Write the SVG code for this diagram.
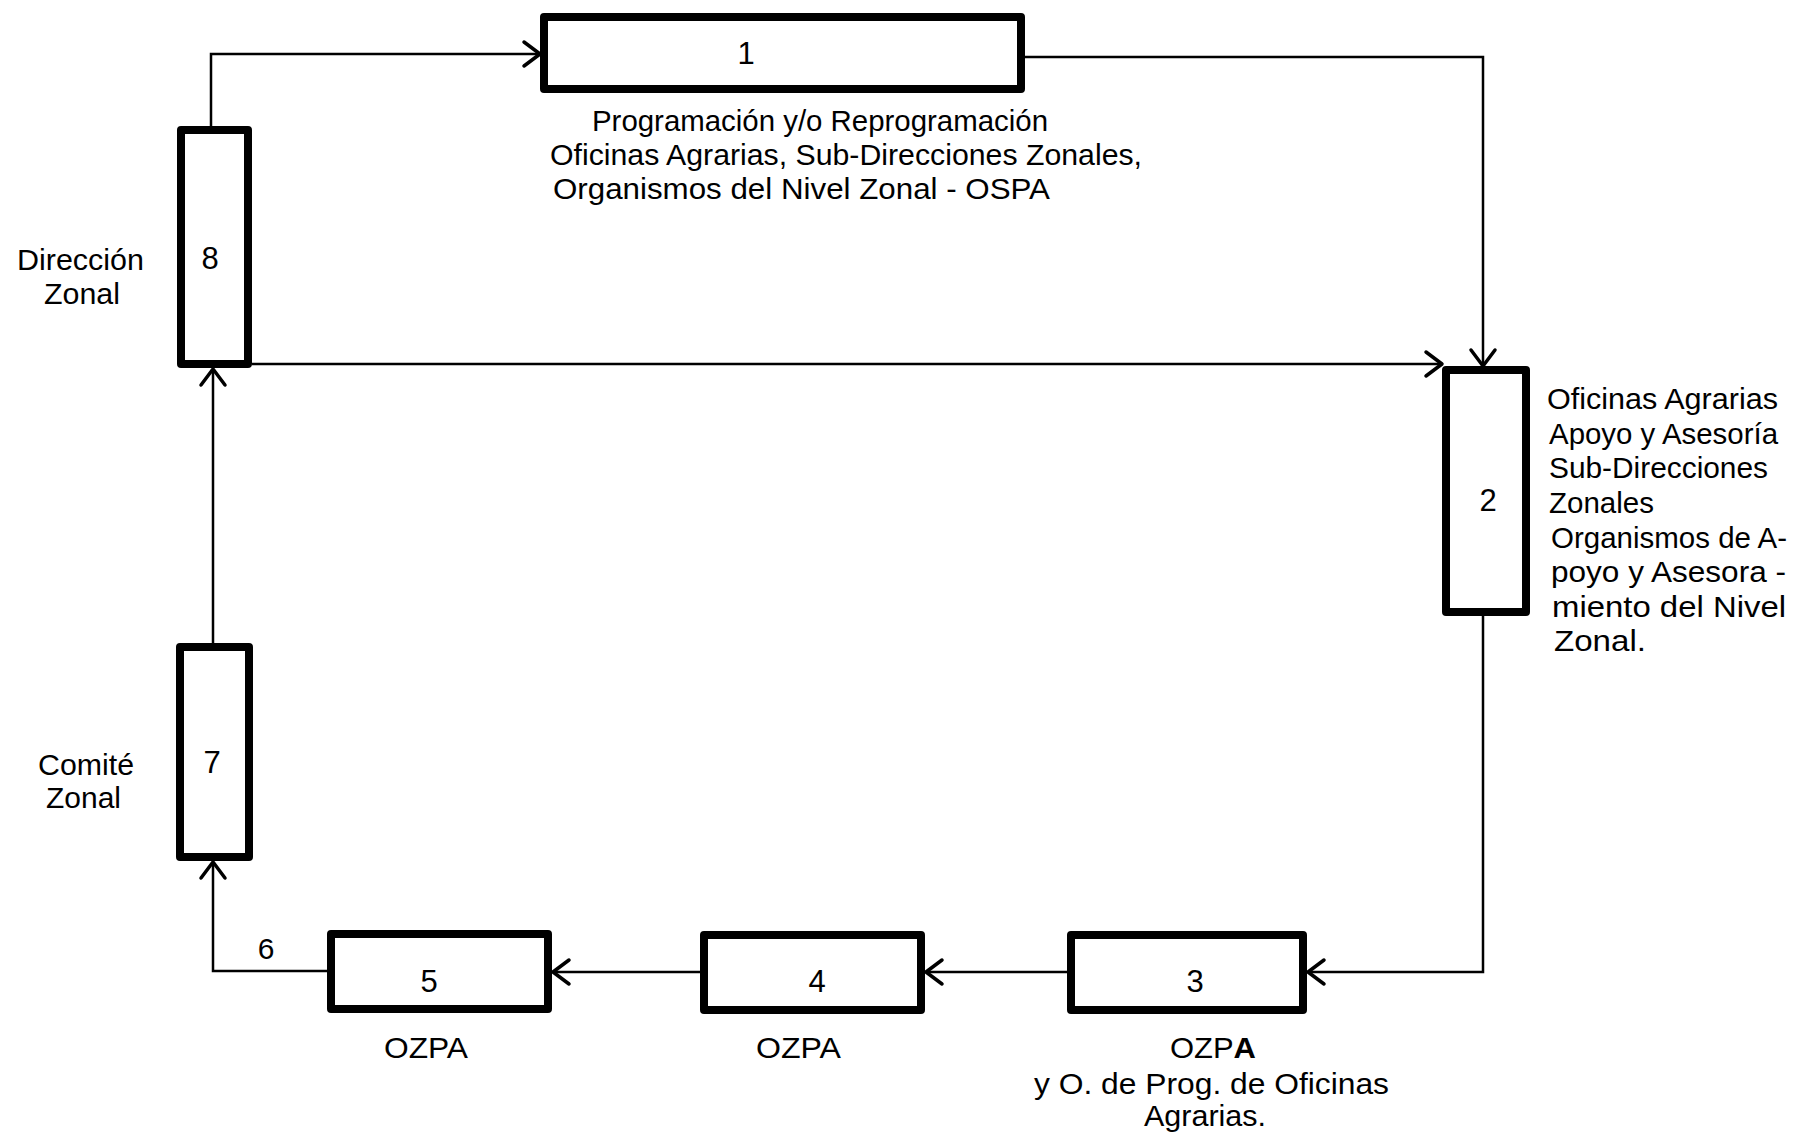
<svg xmlns="http://www.w3.org/2000/svg" width="1800" height="1138" viewBox="0 0 1800 1138">
<style>
.box{fill:#fff;stroke:#000;stroke-width:8;stroke-linejoin:round}
.con{fill:none;stroke:#000;stroke-width:2.5}
text{font-family:"Liberation Sans",Arial,sans-serif;font-size:30px;fill:#000}
.num{text-anchor:middle;font-size:31px}
.mid{text-anchor:middle}
</style>
<defs>
<marker id="arr" markerUnits="userSpaceOnUse" orient="auto" overflow="visible" markerWidth="1" markerHeight="1" refX="0" refY="0">
<path d="M-16,-12 L0,0 L-16,12" fill="none" stroke="#000" stroke-width="3.5" stroke-linecap="round" stroke-linejoin="round"/>
</marker>
</defs>
<rect width="1800" height="1138" fill="#fff"/>
<g id="connectors">
<path class="con" d="M211,129 V54 H540" marker-end="url(#arr)"/>
<path class="con" d="M1023,57 H1483 V366" marker-end="url(#arr)"/>
<path class="con" d="M252,364 H1442" marker-end="url(#arr)"/>
<path class="con" d="M1483,615 V972 H1308" marker-end="url(#arr)"/>
<path class="con" d="M1067,972 H926" marker-end="url(#arr)"/>
<path class="con" d="M700,972 H553" marker-end="url(#arr)"/>
<path class="con" d="M327,971 H213 V862" marker-end="url(#arr)"/>
<path class="con" d="M213,643 V369" marker-end="url(#arr)"/>
<text x="266" y="959" class="mid">6</text>
</g>
<g id="node1">
<rect class="box" x="544" y="17" width="477" height="72"/>
<text x="746" y="64" class="num">1</text>
<text x="592" y="131" textLength="456" lengthAdjust="spacingAndGlyphs">Programación y/o Reprogramación</text>
<text x="550" y="165" textLength="592" lengthAdjust="spacingAndGlyphs">Oficinas Agrarias, Sub-Direcciones Zonales,</text>
<text x="553" y="199" textLength="497" lengthAdjust="spacingAndGlyphs">Organismos del Nivel Zonal - OSPA</text>
</g>
<g id="node2">
<rect class="box" x="1446" y="370" width="80" height="242"/>
<text x="1488" y="511" class="num">2</text>
<text x="1547" y="409" textLength="231" lengthAdjust="spacingAndGlyphs">Oficinas Agrarias</text>
<text x="1549" y="444" textLength="229" lengthAdjust="spacingAndGlyphs">Apoyo y Asesoría</text>
<text x="1549" y="478" textLength="219" lengthAdjust="spacingAndGlyphs">Sub-Direcciones</text>
<text x="1549" y="513" textLength="105" lengthAdjust="spacingAndGlyphs">Zonales</text>
<text x="1551" y="548" textLength="236" lengthAdjust="spacingAndGlyphs">Organismos de A-</text>
<text x="1551" y="582" textLength="235" lengthAdjust="spacingAndGlyphs">poyo y Asesora  -</text>
<text x="1552" y="617" textLength="234" lengthAdjust="spacingAndGlyphs">miento del Nivel</text>
<text x="1554" y="651" textLength="92" lengthAdjust="spacingAndGlyphs">Zonal.</text>
</g>
<g id="node3">
<rect class="box" x="1071" y="935" width="232" height="75"/>
<text x="1195" y="992" class="num">3</text>
<text x="1170" y="1058" textLength="86" lengthAdjust="spacingAndGlyphs">OZP<tspan font-weight="bold">A</tspan></text>
<text x="1034" y="1094" textLength="355" lengthAdjust="spacingAndGlyphs">y O. de Prog. de Oficinas</text>
<text x="1144" y="1126" textLength="122" lengthAdjust="spacingAndGlyphs">Agrarias.</text>
</g>
<g id="node4">
<rect class="box" x="704" y="935" width="217" height="75"/>
<text x="817" y="992" class="num">4</text>
<text x="756" y="1058" textLength="85" lengthAdjust="spacingAndGlyphs">OZPA</text>
</g>
<g id="node5">
<rect class="box" x="331" y="934" width="217" height="75"/>
<text x="429" y="992" class="num">5</text>
<text x="384" y="1058" textLength="84" lengthAdjust="spacingAndGlyphs">OZPA</text>
</g>
<g id="node7">
<rect class="box" x="180" y="647" width="69" height="210"/>
<text x="212" y="773" class="num">7</text>
<text x="38" y="775" textLength="96" lengthAdjust="spacingAndGlyphs">Comité</text>
<text x="46" y="808" textLength="75" lengthAdjust="spacingAndGlyphs">Zonal</text>
</g>
<g id="node8">
<rect class="box" x="181" y="130" width="67" height="234"/>
<text x="210" y="269" class="num">8</text>
<text x="17" y="270" textLength="127" lengthAdjust="spacingAndGlyphs">Dirección</text>
<text x="44" y="304" textLength="76" lengthAdjust="spacingAndGlyphs">Zonal</text>
</g>
</svg>
